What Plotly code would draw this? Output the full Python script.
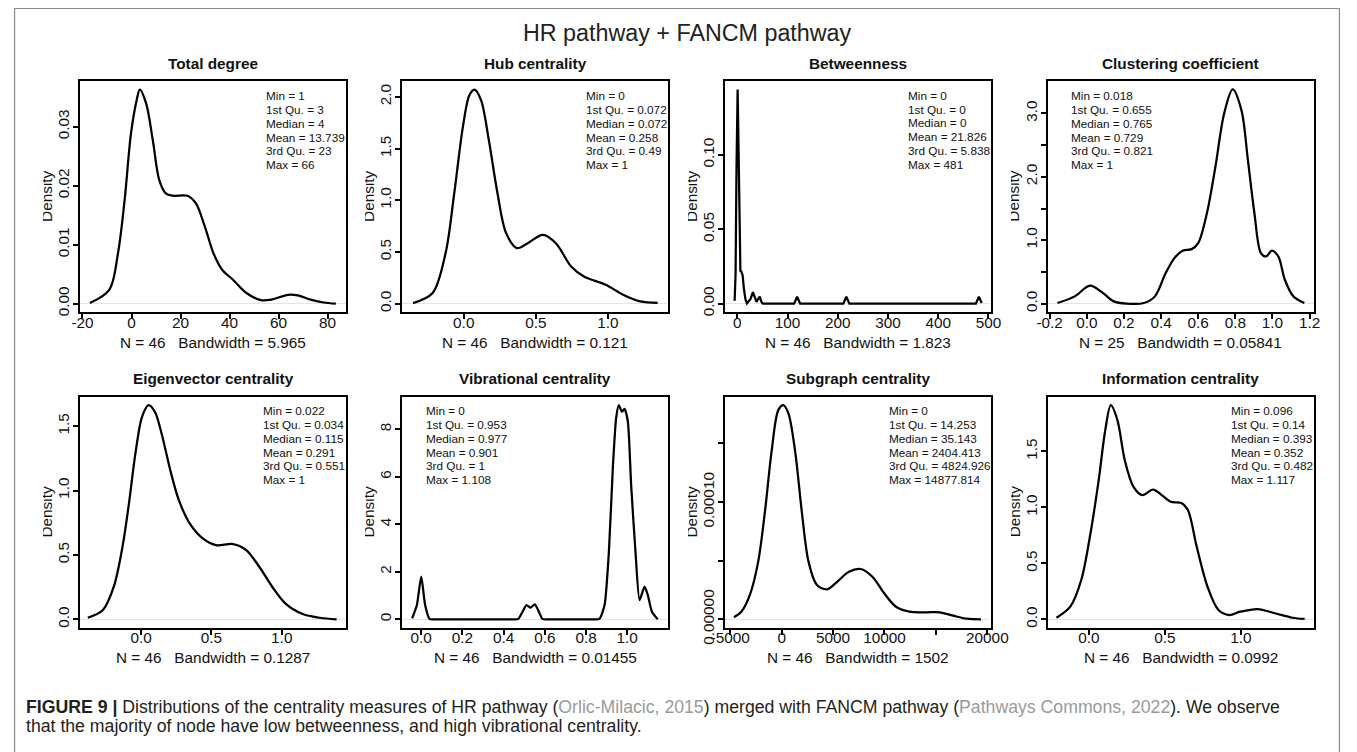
import plotly.graph_objects as go

FONT = "Arial, 'Liberation Sans', Helvetica, sans-serif"

# The photographed page is shrunk by S and centred horizontally (offset BX);
# all positions below are given in the target picture's pixels and mapped back.
S = 0.978
BX = 14.9
W, H = 1357, 766

# ---------------- data ----------------
main_title = "HR pathway + FANCM pathway"
titles = ["Total degree", "Hub centrality", "Betweenness", "Clustering coefficient",
          "Eigenvector centrality", "Vibrational centrality", "Subgraph centrality",
          "Information centrality"]
n_obs = [46, 46, 46, 25, 46, 46, 46, 46]
bandwidths = ["5.965", "0.121", "1.823", "0.05841", "0.1287", "0.01455", "1502", "0.0992"]
stats = [
    ["Min = 1", "1st Qu. = 3", "Median = 4", "Mean = 13.739", "3rd Qu. = 23", "Max = 66"],
    ["Min = 0", "1st Qu. = 0.072", "Median = 0.072", "Mean = 0.258", "3rd Qu. = 0.49", "Max = 1"],
    ["Min = 0", "1st Qu. = 0", "Median = 0", "Mean = 21.826", "3rd Qu. = 5.838", "Max = 481"],
    ["Min = 0.018", "1st Qu. = 0.655", "Median = 0.765", "Mean = 0.729", "3rd Qu. = 0.821", "Max = 1"],
    ["Min = 0.022", "1st Qu. = 0.034", "Median = 0.115", "Mean = 0.291", "3rd Qu. = 0.551", "Max = 1"],
    ["Min = 0", "1st Qu. = 0.953", "Median = 0.977", "Mean = 0.901", "3rd Qu. = 1", "Max = 1.108"],
    ["Min = 0", "1st Qu. = 14.253", "Median = 35.143", "Mean = 2404.413", "3rd Qu. = 4824.926", "Max = 14877.814"],
    ["Min = 0.096", "1st Qu. = 0.14", "Median = 0.393", "Mean = 0.352", "3rd Qu. = 0.482", "Max = 1.117"],
]

# density curves
deg_x = [-17.0, -9.0, -5.5, -2.8, -0.2, 2.1, 3.4, 6.0, 8.7, 11.3, 14.0, 16.6, 22.8, 26.3, 29.9,
         33.4, 36.9, 41.3, 46.6, 52.8, 57.2, 63.9, 67.8, 73.1, 78.4, 83.4]
deg_y = [0.0001, 0.0024, 0.0086, 0.0176, 0.0289, 0.0345, 0.0363, 0.0339, 0.0277, 0.0210, 0.0187,
         0.0183, 0.0183, 0.0170, 0.0131, 0.0086, 0.0058, 0.0041, 0.0019, 0.0006, 0.0007, 0.0015,
         0.0014, 0.0007, 0.0002, 0.0]

hub_x = [-0.352, -0.216, -0.126, -0.066, -0.006, 0.039, 0.075, 0.12, 0.174, 0.234, 0.294, 0.369,
         0.444, 0.549, 0.639, 0.745, 0.834, 0.985, 1.105, 1.225, 1.345]
hub_y = [0.005, 0.103, 0.489, 1.068, 1.71, 2.016, 2.07, 1.968, 1.582, 1.068, 0.682, 0.537, 0.585,
         0.666, 0.585, 0.36, 0.263, 0.183, 0.087, 0.022, 0.007]

btw_x = [-5.5, -3.6, -1.8, 0.5, 2.5, 4.5, 6.0, 8.0, 10.5, 13.0, 16.0, 19.0, 26.0, 31.0, 35.0, 38.0,
         42.0, 44.5, 47.0, 50.0, 54.0, 113.0, 119.0, 125.0, 211.0, 217.0, 223.0, 475.0, 481.0, 486.5]
btw_y = [0.002, 0.02, 0.09, 0.1439, 0.10, 0.035, 0.022, 0.0215, 0.019, 0.010, 0.003, 0.0003, 0.003,
         0.0078, 0.004, 0.0012, 0.0035, 0.0047, 0.002, 0.0002, 0.0, 0.0, 0.0047, 0.0, 0.0, 0.0047,
         0.0, 0.0, 0.0047, 0.0005]

clu_x = [-0.158, -0.065, 0.017, 0.087, 0.145, 0.215, 0.308, 0.367, 0.425, 0.472, 0.519, 0.565, 0.6,
         0.647, 0.693, 0.74, 0.786, 0.833, 0.868, 0.903, 0.938, 0.966, 0.997, 1.032, 1.067, 1.113,
         1.172]
clu_y = [0.01, 0.115, 0.283, 0.168, 0.036, 0.0, 0.01, 0.115, 0.482, 0.718, 0.838, 0.86, 0.954, 1.426,
         2.159, 2.998, 3.376, 3.05, 2.264, 1.426, 0.797, 0.744, 0.838, 0.744, 0.377, 0.115, 0.01]

eig_x = [-0.38, -0.272, -0.195, -0.133, -0.087, -0.041, 0.006, 0.052, 0.098, 0.145, 0.207, 0.268,
         0.345, 0.438, 0.531, 0.654, 0.747, 0.84, 0.932, 1.025, 1.149, 1.272, 1.39]
eig_y = [0.012, 0.072, 0.253, 0.563, 0.9, 1.288, 1.572, 1.663, 1.61, 1.443, 1.158, 0.925, 0.745,
         0.628, 0.576, 0.584, 0.538, 0.408, 0.253, 0.124, 0.041, 0.012, 0.0]

vib_x = [-0.044, -0.021, 0.0, 0.019, 0.04, 0.06, 0.3, 0.45, 0.471, 0.492, 0.511, 0.53, 0.5515,
         0.571, 0.588, 0.61, 0.7, 0.85, 0.866, 0.89, 0.911, 0.93, 0.946, 0.959, 0.974, 0.987,
         1.003, 1.019, 1.04, 1.06, 1.084, 1.1, 1.12, 1.148]
vib_y = [0.04, 0.6, 1.8, 0.6, 0.02, 0.0, 0.0, 0.0, 0.02, 0.32, 0.6, 0.49, 0.63, 0.32, 0.02, 0.0,
         0.0, 0.0, 0.03, 0.6, 2.85, 6.36, 8.46, 9.02, 8.74, 8.86, 8.32, 5.66, 2.85, 0.81, 1.375,
         1.02, 0.32, 0.0]

sub_x = [-4637, -3922, -3098, -2284, -1627, -980, -324, 167, 657, 1314, 1961, 2618, 3431, 4412, 5392,
         6539, 7686, 8824, 9971, 11118, 12422, 14059, 15363, 16667, 17980, 19380]
sub_y = [1.7e-6, 6.5e-6, 2.07e-5, 4.9e-5, 9.17e-5, 1.43e-4, 1.784e-4, 1.826e-4, 1.756e-4, 1.43e-4,
         9.17e-5, 4.9e-5, 2.92e-5, 2.56e-5, 3.2e-5, 4.06e-5, 4.29e-5, 3.63e-5, 2.22e-5, 1.07e-5,
         6.5e-6, 6.0e-6, 6.0e-6, 3.1e-6, 0.5e-6, 0.0]

inf_x = [-0.213, -0.122, -0.05, 0.007, 0.065, 0.108, 0.145, 0.188, 0.237, 0.294, 0.352, 0.423, 0.48,
         0.538, 0.609, 0.652, 0.71, 0.781, 0.853, 0.925, 0.996, 1.111, 1.225, 1.34, 1.42]
inf_y = [0.014, 0.113, 0.351, 0.738, 1.244, 1.69, 1.913, 1.78, 1.42, 1.184, 1.11, 1.16, 1.11, 1.05,
         1.04, 0.976, 0.648, 0.291, 0.083, 0.038, 0.068, 0.092, 0.054, 0.014, 0.003]

# tick values and labels
x_tickvals = [[-20, 0, 20, 40, 60, 80], [0, 0.5, 1.0], [0, 100, 200, 300, 400, 500],
              [-0.2, 0, 0.2, 0.4, 0.6, 0.8, 1.0, 1.2], [0, 0.5, 1.0], [0, 0.2, 0.4, 0.6, 0.8, 1.0],
              [-5000, 0, 5000, 10000, 15000, 20000], [0, 0.5, 1.0]]
x_ticktext = [["-20", "0", "20", "40", "60", "80"], ["0.0", "0.5", "1.0"],
              ["0", "100", "200", "300", "400", "500"],
              ["-0.2", "0.0", "0.2", "0.4", "0.6", "0.8", "1.0", "1.2"], ["0.0", "0.5", "1.0"],
              ["0.0", "0.2", "0.4", "0.6", "0.8", "1.0"],
              ["-5000", "0", "5000", "10000", "", "20000"], ["0.0", "0.5", "1.0"]]
y_tickvals = [[0, 0.01, 0.02, 0.03], [0, 0.5, 1.0, 1.5, 2.0], [0, 0.05, 0.10],
              [0, 0.5, 1.0, 1.5, 2.0, 2.5, 3.0], [0, 0.5, 1.0, 1.5], [0, 2, 4, 6, 8],
              [0, 5e-5, 1e-4, 1.5e-4], [0, 0.5, 1.0, 1.5]]
y_ticktext = [["0.00", "0.01", "0.02", "0.03"], ["0.0", "0.5", "1.0", "1.5", "2.0"],
              ["0.00", "0.05", "0.10"], ["0.0", "", "1.0", "", "2.0", "", "3.0"],
              ["0.0", "0.5", "1.0", "1.5"], ["0", "2", "4", "6", "8"],
              ["0.00000", "", "0.00010", ""], ["0.0", "0.5", "1.0", "1.5"]]

caption_1 = ("<b>FIGURE 9 |</b> Distributions of the centrality measures of HR pathway "
             "(<span style='color:#9a9a9a'>Orlic-Milacic, 2015</span>) merged with FANCM pathway "
             "(<span style='color:#9a9a9a'>Pathways Commons, 2022</span>). We observe")
caption_2 = "that the majority of node have low betweenness, and high vibrational centrality."

curves = [(deg_x, deg_y), (hub_x, hub_y), (btw_x, btw_y), (clu_x, clu_y),
          (eig_x, eig_y), (vib_x, vib_y), (sub_x, sub_y), (inf_x, inf_y)]

# ---------------- layout geometry (target pixels) ----------------
col_left = [81.0, 403.3, 726.6, 1049.6]
col_w = 266.6
row_top = [81.0, 396.7]
row_h = 231.3
x_ranges = [[-21.0, 87.7], [-0.428, 1.42], [-24.5, 506.0], [-0.21, 1.225],
            [-0.435, 1.46], [-0.093, 1.2], [-5500, 20400], [-0.27, 1.483]]
y_ranges = [[-0.00145, 0.03775], [-0.083, 2.154], [-0.00576, 0.1497], [-0.135, 3.51],
            [-0.0665, 1.729], [-0.36, 9.375], [-7.3e-6, 1.899e-4], [-0.0765, 1.99]]
line_shapes = ["spline", "spline", "linear", "spline", "spline", "spline", "spline", "spline"]
smooth = [0.9, 0.9, 0.0, 0.9, 0.9, 0.6, 0.9, 0.9]
stats_pos = [(265.4, 95.7), (585.4, 95.7), (907.7, 95.3), (1070.5, 95.7),
             (262.0, 410.7), (425.0, 410.7), (889.0, 410.7), (1231.3, 410.7)]
stats_dy = 13.8


def px(x):
    return ((x - BX) / S) / W


def py(y):
    return 1 - (y / S) / H


def sz(v):
    return v / S


fig = go.Figure()
annotations = []
covers = []
layout_axes = {}

for i, (xs, ys) in enumerate(curves):
    r, c = divmod(i, 4)
    sfx = "" if i == 0 else str(i + 1)
    x0 = col_left[c]
    x1 = x0 + col_w
    y0 = row_top[r]
    y1 = y0 + row_h
    line = dict(color="black", width=sz(2.2), shape=line_shapes[i])
    if line_shapes[i] == "spline":
        line["smoothing"] = smooth[i]
    fig.add_trace(go.Scatter(x=xs, y=ys, mode="lines", line=line,
                             xaxis="x" + sfx, yaxis="y" + sfx, hoverinfo="skip",
                             showlegend=False))
    common = dict(showline=True, mirror=True, linecolor="black", linewidth=sz(2),
                  ticks="outside", ticklen=sz(5), tickwidth=sz(1.5), tickcolor="black",
                  showgrid=False, tickfont=dict(family=FONT, size=sz(15), color="#111111"))
    layout_axes["xaxis" + sfx] = dict(domain=[px(x0), px(x1)], anchor="y" + sfx,
                                      range=x_ranges[i], tickmode="array",
                                      tickvals=x_tickvals[i], ticktext=x_ticktext[i],
                                      zeroline=False, ticklabelstandoff=-10, **common)
    layout_axes["yaxis" + sfx] = dict(domain=[py(y1), py(y0)], anchor="x" + sfx,
                                      range=y_ranges[i], tickmode="array",
                                      tickvals=y_tickvals[i], ticktext=y_ticktext[i],
                                      tickangle=-90, zeroline=True, zerolinecolor="#e4e4e4",
                                      zerolinewidth=1, ticklabelstandoff=-2, **common)
    cx = (x0 + x1) / 2
    # panel title
    annotations.append(dict(x=px(cx), y=py(y0 - 17.7), xref="paper", yref="paper",
                            text="<b>" + titles[i] + "</b>", showarrow=False,
                            font=dict(family=FONT, size=sz(15), color="#111111"),
                            xanchor="center", yanchor="middle"))
    # N / bandwidth line
    annotations.append(dict(x=px(cx), y=py(y1 + 30), xref="paper", yref="paper",
                            text="N = %d\u00a0\u00a0\u00a0Bandwidth = %s" % (n_obs[i], bandwidths[i]),
                            showarrow=False, font=dict(family=FONT, size=sz(15), color="#111111"),
                            xanchor="center", yanchor="middle"))
    # Density label (its left edge is clipped in the original image)
    annotations.append(dict(x=px(x0 - 33.8), y=py((y0 + y1) / 2), xref="paper", yref="paper",
                            text="Density", textangle=-90, showarrow=False,
                            font=dict(family=FONT, size=sz(15), color="#111111"),
                            xanchor="center", yanchor="middle"))
    covers.append(dict(x=px(x0 - 37.3), y=py((y0 + y1) / 2), xref="paper", yref="paper",
                       text="\u00a0", showarrow=False, width=sz(12), height=sz(70),
                       bgcolor="white", borderpad=0, borderwidth=0,
                       font=dict(size=4, color="white"), xanchor="right", yanchor="middle"))
    # summary statistics
    sx, sy = stats_pos[i]
    for k, txt in enumerate(stats[i]):
        annotations.append(dict(x=px(sx), y=py(sy + k * stats_dy), xref="paper", yref="paper",
                                text=txt, showarrow=False,
                                font=dict(family=FONT, size=sz(11.5), color="#111111"),
                                xanchor="left", yanchor="middle"))

annotations.extend(covers)

# main title
annotations.append(dict(x=px(689), y=py(33.3), xref="paper", yref="paper", text=main_title,
                        showarrow=False, font=dict(family=FONT, size=sz(22.8), color="#222222"),
                        xanchor="center", yanchor="middle"))
# caption
annotations.append(dict(x=px(25), y=py(707), xref="paper", yref="paper", text=caption_1,
                        showarrow=False, font=dict(family=FONT, size=sz(17.3), color="#231f20"),
                        xanchor="left", yanchor="middle"))
annotations.append(dict(x=px(25), y=py(726), xref="paper", yref="paper", text=caption_2,
                        showarrow=False, font=dict(family=FONT, size=sz(17.3), color="#231f20"),
                        xanchor="left", yanchor="middle"))

# outer frame of the figure panel (left/right pushed to the visible edges)
shapes = [dict(type="rect", xref="paper", yref="paper", x0=0.6 / W, x1=(W - 0.6) / W,
               y0=-0.1, y1=py(8.5), line=dict(color="#8a8a8a", width=1.2),
               fillcolor="rgba(0,0,0,0)", layer="below")]

fig.update_layout(width=W, height=H, margin=dict(l=0, r=0, t=0, b=0),
                  paper_bgcolor="white", plot_bgcolor="white",
                  annotations=annotations, shapes=shapes, **layout_axes)

fig.write_html("out.html", config={"displayModeBar": False},
               post_script="document.body.style.margin='0px';document.body.style.padding='0px';")
